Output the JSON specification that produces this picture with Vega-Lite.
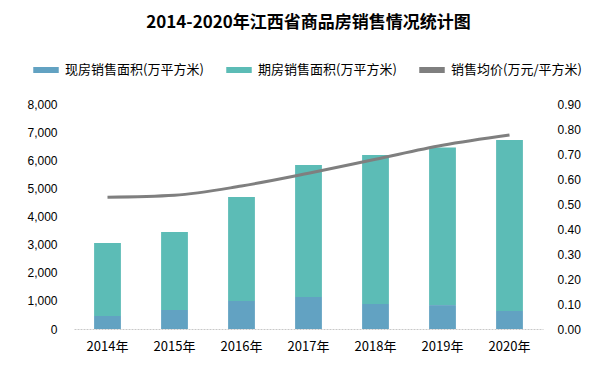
{
  "$schema": "https://vega.github.io/schema/vega-lite/v6.json",
  "width": 469,
  "height": 225,
  "autosize": {"type": "none"},
  "padding": {"left": 74, "top": 104, "right": 64, "bottom": 45},
  "background": "white",
  "title": {
    "text": "2014-2020年江西省商品房销售情况统计图",
    "font": "Noto Sans CJK SC",
    "fontSize": 17,
    "fontWeight": "bold",
    "color": "#000000",
    "anchor": "middle",
    "offset": 22
  },
  "datasets": {
    "area": [
      {"year": "2014年", "type": "现房销售面积(万平方米)", "value": 460},
      {"year": "2014年", "type": "期房销售面积(万平方米)", "value": 2600},
      {"year": "2015年", "type": "现房销售面积(万平方米)", "value": 680},
      {"year": "2015年", "type": "期房销售面积(万平方米)", "value": 2770},
      {"year": "2016年", "type": "现房销售面积(万平方米)", "value": 1000},
      {"year": "2016年", "type": "期房销售面积(万平方米)", "value": 3690},
      {"year": "2017年", "type": "现房销售面积(万平方米)", "value": 1140},
      {"year": "2017年", "type": "期房销售面积(万平方米)", "value": 4690},
      {"year": "2018年", "type": "现房销售面积(万平方米)", "value": 890},
      {"year": "2018年", "type": "期房销售面积(万平方米)", "value": 5300},
      {"year": "2019年", "type": "现房销售面积(万平方米)", "value": 850},
      {"year": "2019年", "type": "期房销售面积(万平方米)", "value": 5600},
      {"year": "2020年", "type": "现房销售面积(万平方米)", "value": 640},
      {"year": "2020年", "type": "期房销售面积(万平方米)", "value": 6080}
    ],
    "price": [
      {"year": "2014年", "price": 0.527},
      {"year": "2015年", "price": 0.535},
      {"year": "2016年", "price": 0.572},
      {"year": "2017年", "price": 0.623},
      {"year": "2018年", "price": 0.679},
      {"year": "2019年", "price": 0.735},
      {"year": "2020年", "price": 0.776}
    ]
  },
  "encoding": {
    "x": {
      "field": "year",
      "type": "nominal",
      "sort": null,
      "scale": {"paddingInner": 0.6, "paddingOuter": 0.3},
      "axis": {
        "title": null,
        "labelAngle": 0,
        "labelFont": "Noto Sans CJK SC",
        "labelFontSize": 13,
        "labelColor": "#000000",
        "labelPadding": 11,
        "ticks": false,
        "domainColor": "#C8C8C8",
        "domainDash": [2, 1],
        "domainWidth": 1
      }
    }
  },
  "layer": [
    {
      "data": {"name": "area"},
      "mark": {"type": "bar"},
      "encoding": {
        "y": {
          "field": "value",
          "type": "quantitative",
          "stack": "zero",
          "scale": {"domain": [0, 8000]},
          "axis": {
            "title": null,
            "values": [0, 1000, 2000, 3000, 4000, 5000, 6000, 7000, 8000],
            "format": ",.0f",
            "grid": false,
            "domain": false,
            "ticks": false,
            "labelFont": "Liberation Sans",
            "labelFontSize": 12,
            "labelColor": "#000000",
            "labelPadding": 17
          }
        },
        "color": {
          "field": "type",
          "type": "nominal",
          "scale": {
            "domain": ["现房销售面积(万平方米)", "期房销售面积(万平方米)", "销售均价(万元/平方米)"],
            "range": ["#62A2C2", "#5CBCB6", "#7F7F7F"]
          },
          "legend": {
            "title": null,
            "orient": "none",
            "legendX": -44,
            "legendY": -50,
            "direction": "horizontal",
            "symbolType": "stroke",
            "symbolStrokeWidth": 6,
            "symbolSize": 650,
            "symbolOffset": 0,
            "labelOffset": 3,
            "labelFont": "Noto Sans CJK SC",
            "labelFontSize": 13,
            "labelColor": "#000000",
            "labelLimit": 300,
            "columnPadding": 10
          }
        },
        "order": {"field": "type", "sort": "descending"}
      }
    },
    {
      "data": {"name": "price"},
      "mark": {"type": "line", "strokeWidth": 3, "interpolate": "monotone"},
      "encoding": {
        "y": {
          "field": "price",
          "type": "quantitative",
          "scale": {"domain": [0, 0.9]},
          "axis": {
            "title": null,
            "orient": "right",
            "values": [0, 0.1, 0.2, 0.3, 0.4, 0.5, 0.6, 0.7, 0.8, 0.9],
            "format": ".2f",
            "grid": false,
            "domain": false,
            "ticks": false,
            "labelFont": "Liberation Sans",
            "labelFontSize": 12,
            "labelColor": "#000000",
            "labelPadding": 14
          }
        },
        "color": {"datum": "销售均价(万元/平方米)"}
      }
    }
  ],
  "resolve": {"scale": {"y": "independent"}},
  "config": {"view": {"stroke": null}}
}
